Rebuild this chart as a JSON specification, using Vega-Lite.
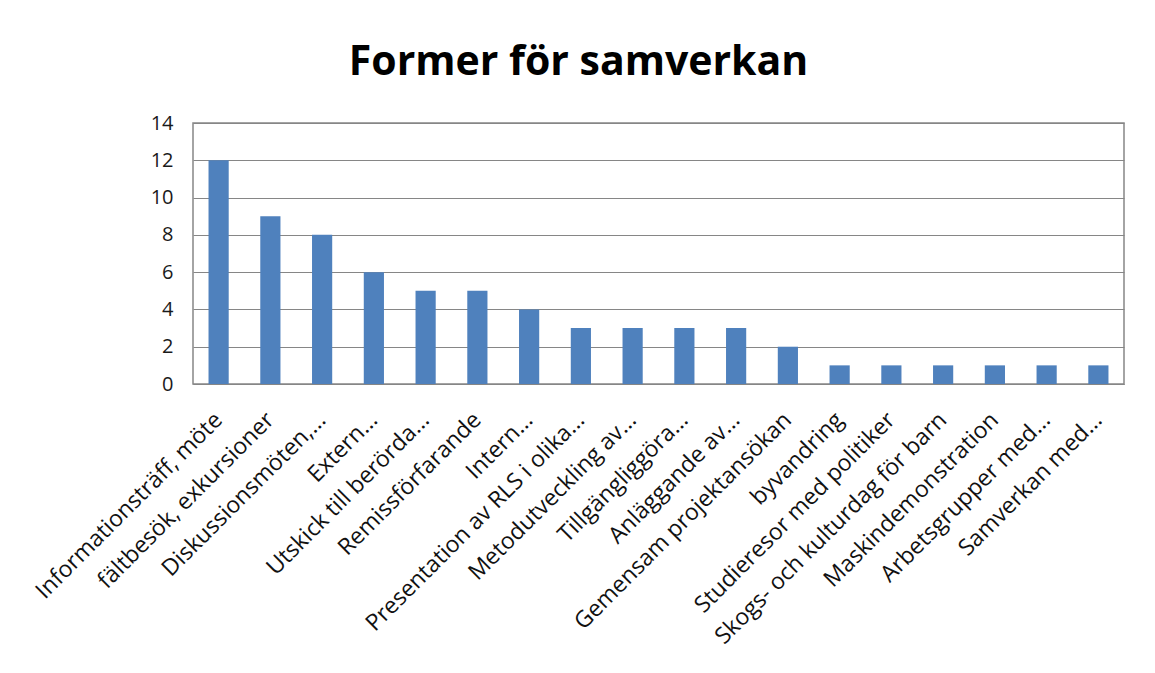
{
  "$schema": "https://vega.github.io/schema/vega-lite/v6.json",
  "width": 931,
  "height": 261,
  "autosize": {"type": "none"},
  "padding": {"left": 193, "top": 123, "right": 31, "bottom": 289},
  "background": "white",
  "title": {
    "text": "Former för samverkan",
    "font": "Open Sans",
    "fontSize": 41,
    "fontWeight": "bold",
    "color": "#000000",
    "anchor": "middle",
    "dx": -80,
    "offset": 29
  },
  "data": {
    "values": [
      {"form": "Informationsträff, möte", "antal": 12},
      {"form": "fältbesök, exkursioner", "antal": 9},
      {"form": "Diskussionsmöten,...", "antal": 8},
      {"form": "Extern...", "antal": 6},
      {"form": "Utskick till berörda...", "antal": 5},
      {"form": "Remissförfarande", "antal": 5},
      {"form": "Intern...", "antal": 4},
      {"form": "Presentation av RLS i olika...", "antal": 3},
      {"form": "Metodutveckling av...", "antal": 3},
      {"form": "Tillgängliggöra...", "antal": 3},
      {"form": "Anläggande av...", "antal": 3},
      {"form": "Gemensam projektansökan", "antal": 2},
      {"form": "byvandring", "antal": 1},
      {"form": "Studieresor med politiker", "antal": 1},
      {"form": "Skogs- och kulturdag för barn", "antal": 1},
      {"form": "Maskindemonstration", "antal": 1},
      {"form": "Arbetsgrupper med...", "antal": 1},
      {"form": "Samverkan med...", "antal": 1}
    ]
  },
  "mark": {"type": "bar", "color": "#4F81BD"},
  "encoding": {
    "x": {
      "field": "form",
      "type": "nominal",
      "sort": null,
      "title": null,
      "scale": {"paddingInner": 0.61, "paddingOuter": 0.3},
      "axis": {
        "labelAngle": -45,
        "labelAlign": "right",
        "labelBaseline": "middle",
        "labelFont": "Open Sans",
        "labelFontSize": 23,
        "labelColor": "#111111",
        "labelPadding": 32,
        "ticks": false,
        "domainColor": "#868686",
        "labelLimit": 500
      }
    },
    "y": {
      "field": "antal",
      "type": "quantitative",
      "title": null,
      "scale": {"domain": [0, 14]},
      "axis": {
        "values": [0, 2, 4, 6, 8, 10, 12, 14],
        "labelFont": "Open Sans",
        "labelFontSize": 20,
        "labelColor": "#1a1a1a",
        "labelPadding": 20,
        "ticks": false,
        "domain": false,
        "gridColor": "#868686",
        "gridOpacity": 1
      }
    }
  },
  "config": {
    "view": {"stroke": "#868686", "strokeWidth": 1.5}
  }
}
